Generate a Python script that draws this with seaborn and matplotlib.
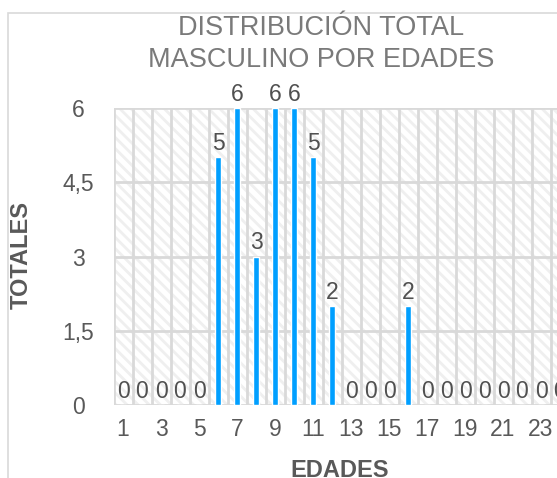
import matplotlib
matplotlib.use('Agg')
import matplotlib.pyplot as plt
import matplotlib.patches as mpatches
import seaborn as sns
import pandas as pd

# Datos
edades = list(range(1, 25))
totales = [0, 0, 0, 0, 0, 5, 6, 3, 6, 6, 5, 2, 0, 0, 0, 2, 0, 0, 0, 0, 0, 0, 0, 0]
yticks = [0, 1.5, 3, 4.5, 6]
ytick_labels = ['0', '1,5', '3', '4,5', '6']

df = pd.DataFrame({'Edad': [str(e) for e in edades], 'Total': totales})

sns.set_style('white')
plt.rcParams['font.family'] = ['Liberation Sans', 'DejaVu Sans']
plt.rcParams['hatch.linewidth'] = 2.0
plt.rcParams['hatch.color'] = '#efefef'

fig = plt.figure(figsize=(5.57, 4.78), dpi=100)
W, H = 557, 478
ax = fig.add_axes([113.5 / W, (H - 405) / H, 456 / W, 297 / H])

# fondo rayado
ax.add_patch(mpatches.Rectangle((0, 0), 1, 1, transform=ax.transAxes, facecolor='white',
                                edgecolor='#efefef', hatch='\\\\\\', linewidth=0, zorder=0))

sns.barplot(data=df, x='Edad', y='Total', color='#009FFF', width=0.32, saturation=1,
            ax=ax, zorder=3)

ax.set_ylim(0, 6)
ax.set_xlim(-0.5, len(edades) - 0.5)

# rejilla
for yv in yticks:
    ax.axhline(yv, color='#d9d9d9', lw=2, zorder=1)
for i in range(len(edades) + 1):
    ax.axvline(i - 0.5, color='#d9d9d9', lw=2, zorder=1)
for s in ax.spines.values():
    s.set_visible(False)

ax.set_yticks(yticks)
ax.set_yticklabels(ytick_labels, ha='center')
ax.set_xticks(range(0, len(edades), 2))
ax.set_xticklabels([str(e) for e in edades[::2]])
ax.tick_params(axis='y', length=0, pad=25.5, labelsize=16.5, labelcolor='#595959')
ax.tick_params(axis='x', length=0, pad=9.5, labelsize=16.5, labelcolor='#595959')

ax.bar_label(ax.containers[0], labels=[str(v) for v in totales], padding=1.5,
             fontsize=16.5, color='#505050')

ax.set_ylabel('TOTALES', fontsize=17, fontweight='bold', color='#595959')
ax.yaxis.set_label_coords((33 - 113.5) / 456, (405 - 255) / 297)
ax.set_xlabel('EDADES', fontsize=17, fontweight='bold', color='#595959')
ax.xaxis.set_label_coords((340 - 113.5) / 456, (405 - 459) / 297)

fig.text(321 / W, (H - 15) / H, 'DISTRIBUCIÓN TOTAL\nMASCULINO POR EDADES', ha='center',
         va='top', fontsize=19.5, color='#7a7a7a', linespacing=1.3)

# borde del area del grafico
fig.patches.append(mpatches.Rectangle((8 / W, -0.2), 2, (H - 13) / H + 0.2,
                                      transform=fig.transFigure, fill=False,
                                      edgecolor='#d9d9d9', lw=1.2))

fig.savefig('out.png', dpi=100)
